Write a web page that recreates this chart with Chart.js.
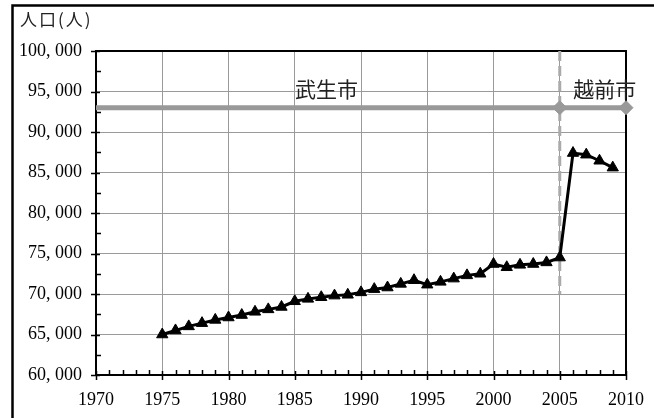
<!DOCTYPE html>
<html>
<head>
<meta charset="utf-8">
<script src="https://cdn.jsdelivr.net/npm/chart.js@4.4.1/dist/chart.umd.min.js"></script>
<style>
  html, body { margin: 0; padding: 0; background: #fff; }
  #c { display: block; }
</style>
</head>
<body>
<canvas id="c" width="654" height="418"></canvas>
<script>
// Population of Takefu / Echizen city, by year
const years = [1975, 1976, 1977, 1978, 1979, 1980, 1981, 1982, 1983, 1984,
               1985, 1986, 1987, 1988, 1989, 1990, 1991, 1992, 1993, 1994,
               1995, 1996, 1997, 1998, 1999, 2000, 2001, 2002, 2003, 2004,
               2005, 2006, 2007, 2008, 2009];
const population = [65000, 65500, 66000, 66400, 66800, 67100, 67400, 67800, 68100, 68400,
                    69100, 69400, 69600, 69800, 69900, 70200, 70600, 70800, 71250, 71700,
                    71150, 71500, 71900, 72300, 72500, 73700, 73300, 73600, 73700, 73900,
                    74500, 87400, 87200, 86450, 85600];

// Era bar (Takefu -> Echizen) and the merger marker
const eraYears = [1970, 2005, 2010];
const eraLevel = [93000, 93000, 93000];
const mergerYears = [2005, 2005];
const mergerRange = [100000, 70000];
const eraNames = ['武生市', '越前市'];
const eraLabelPos = [[1987.4, 95300], [2008.4, 95300]];

// Axis ranges and tick spacing
const xRange = [1970, 2010];
const yRange = [60000, 100000];
const xStep = 5, yStep = 5000;
const yTitle = '人口(人)';

const serif = '"Liberation Serif", "DejaVu Serif", serif';
const cjk = '"Noto Sans CJK JP", "Noto Sans CJK SC", sans-serif';

const toPoints = (xs, ys) => xs.map((x, i) => ({ x: x, y: ys[i] }));

const framePlugin = {
  id: 'frame',
  beforeDraw(chart) {
    const ctx = chart.ctx;
    ctx.save();
    ctx.fillStyle = '#fff';
    ctx.fillRect(0, 0, chart.width, chart.height);
    // outer border of the figure
    ctx.strokeStyle = '#000';
    ctx.lineWidth = 2.5;
    ctx.strokeRect(12.5, 5.5, chart.width + 10, chart.height + 10);
    // y title
    ctx.fillStyle = '#222';
    ctx.font = '17px ' + cjk;
    ctx.letterSpacing = '2px';
    ctx.textBaseline = 'middle';
    ctx.textAlign = 'left';
    ctx.fillText(yTitle, 20, 20);
    ctx.restore();
  },
  beforeDatasetsDraw(chart) {
    const { ctx, chartArea: a, scales: { x, y } } = chart;
    ctx.save();
    ctx.strokeStyle = '#000';
    ctx.lineWidth = 2;
    ctx.strokeRect(a.left, a.top, a.right - a.left, a.bottom - a.top);
    ctx.lineWidth = 1.5;
    ctx.beginPath();
    // x ticks: yearly minor ticks inside, major ticks crossing the axis
    for (let yr = xRange[0]; yr <= xRange[1]; yr++) {
      const px = Math.round(x.getPixelForValue(yr)) + 0.5;
      if (yr % xStep === 0) {
        ctx.moveTo(px, a.bottom - 4);
        ctx.lineTo(px, a.bottom + 5);
      } else {
        ctx.moveTo(px, a.bottom - 5);
        ctx.lineTo(px, a.bottom);
      }
    }
    // y ticks: half-step minor ticks inside, major ticks crossing
    for (let v = yRange[0]; v <= yRange[1]; v += yStep / 2) {
      const py = Math.round(y.getPixelForValue(v)) + 0.5;
      if (v % yStep === 0) {
        ctx.moveTo(a.left - 5, py);
        ctx.lineTo(a.left + 4, py);
      } else {
        ctx.moveTo(a.left, py);
        ctx.lineTo(a.left + 5, py);
      }
    }
    ctx.stroke();
    ctx.restore();
  },
  afterDatasetsDraw(chart) {
    const { ctx, scales: { x, y } } = chart;
    ctx.save();
    ctx.fillStyle = '#222';
    ctx.font = '21px ' + cjk;
    ctx.textAlign = 'center';
    ctx.textBaseline = 'middle';
    eraNames.forEach((name, i) => {
      ctx.fillText(name, x.getPixelForValue(eraLabelPos[i][0]), y.getPixelForValue(eraLabelPos[i][1]));
    });
    ctx.restore();
  }
};

new Chart(document.getElementById('c'), {
  type: 'line',
  data: {
    datasets: [
      {
        label: 'population',
        data: toPoints(years, population),
        borderColor: '#000',
        borderWidth: 3,
        pointStyle: 'triangle',
        pointRadius: 6.5,
        pointBackgroundColor: '#000',
        pointBorderColor: '#000',
        pointBorderWidth: 1,
        order: 0
      },
      {
        label: 'era',
        data: toPoints(eraYears, eraLevel),
        borderColor: '#999',
        borderWidth: 5,
        pointStyle: 'rectRot',
        pointRadius: [0, 7, 7],
        pointBackgroundColor: '#999',
        pointBorderColor: '#999',
        pointBorderWidth: 1,
        clip: false,
        order: 1
      },
      {
        label: 'merger',
        data: toPoints(mergerYears, mergerRange),
        borderColor: '#aaa',
        borderWidth: 3,
        borderDash: [10, 5],
        pointRadius: 0,
        order: 2
      }
    ]
  },
  options: {
    responsive: false,
    animation: false,
    events: [],
    layout: { padding: { left: 0, top: 51, right: 28, bottom: 0 } },
    plugins: { legend: { display: false }, tooltip: { enabled: false } },
    scales: {
      x: {
        type: 'linear',
        min: xRange[0], max: xRange[1],
        border: { display: false },
        grid: { color: '#9a9a9a', lineWidth: 1, drawTicks: false },
        ticks: { stepSize: xStep, padding: 14, color: '#000',
                 font: { family: serif, size: 18 },
                 callback: v => String(v) },
        afterFit: s => { s.height = 43; s.paddingLeft = 0; s.paddingRight = 0; }
      },
      y: {
        min: yRange[0], max: yRange[1],
        border: { display: false },
        grid: { color: '#9a9a9a', lineWidth: 1, drawTicks: false },
        ticks: { stepSize: yStep, padding: 14, color: '#000',
                 font: { family: serif, size: 18 },
                 callback: v => v.toLocaleString('en-US').replace(',', ', ') },
        afterFit: s => { s.width = 96; s.paddingTop = 0; s.paddingBottom = 0; }
      }
    }
  },
  plugins: [framePlugin]
});
</script>
</body>
</html>
